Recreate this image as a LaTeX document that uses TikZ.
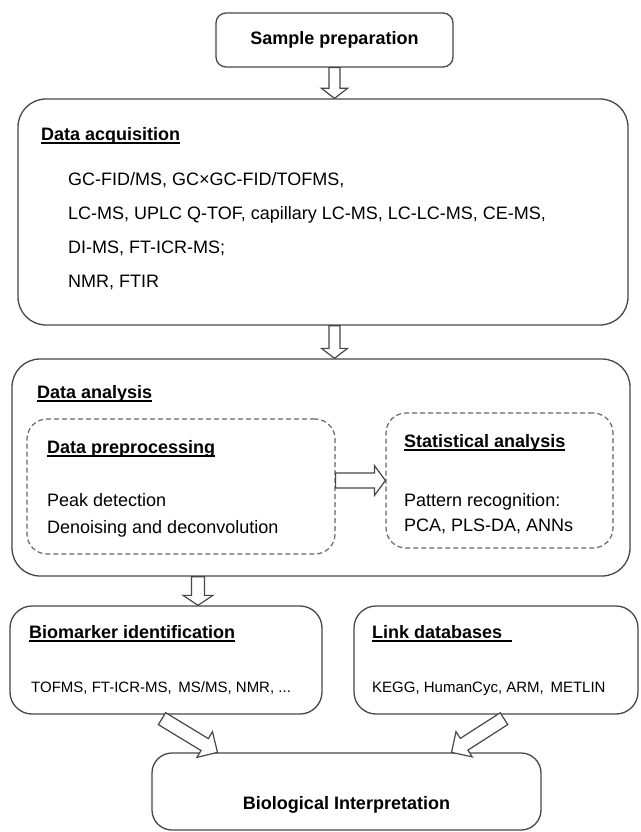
\documentclass[tikz,border=0pt]{standalone}
\usepackage{fontspec}
\setmainfont{Liberation Sans}
\usetikzlibrary{calc}

% underlined bold heading
\newcommand{\headline}[1]{\setbox0\hbox{\bfseries #1}\rlap{\rule[-3.5pt]{\wd0}{1.6pt}}\box0}
% hollow block arrow: from, to, half shaft, half head, head length
\newcommand{\blockarrow}[5]{%
  \coordinate (neck) at ($(#2)!#5!(#1)$);
  \draw[arrowline] ($(#1)!#3!90:(#2)$) -- ($(neck)!#3!90:(#2)$) -- ($(neck)!#4!90:(#2)$) -- (#2)
    -- ($(neck)!#4!-90:(#2)$) -- ($(neck)!#3!-90:(#2)$) -- ($(#1)!#3!-90:(#2)$) -- cycle;}

\begin{document}
\begin{tikzpicture}[x=1pt,y=-1pt,
    box/.style={draw=black!72,line width=1.3pt,inner sep=0pt},
    dashbox/.style={draw=black!60,line width=1.2pt,dash pattern=on 5pt off 3pt,inner sep=0pt},
    head/.style={anchor=base west,inner sep=0pt,font=\fontsize{18}{22}\selectfont},
    body/.style={anchor=north west,inner sep=0pt,align=left},
    arrowline/.style={draw=black!72,line width=1.2pt,fill=white,line join=miter}]
  \useasboundingbox (0,0) rectangle (640,832);

  % boxes
  \node[box,rounded corners=10pt,minimum width=237pt,minimum height=54pt,
        font=\fontsize{18}{22}\selectfont\bfseries] (prep) at (334.5,40) {Sample preparation};
  \node[box,rounded corners=28pt,minimum width=610pt,minimum height=226pt] (acq) at (323,212) {};
  \node[box,rounded corners=28pt,minimum width=618pt,minimum height=217pt] (ana) at (321,467.5) {};
  \node[dashbox,rounded corners=20pt,minimum width=308pt,minimum height=135pt] (pre) at (181,486.5) {};
  \node[dashbox,rounded corners=20pt,minimum width=227pt,minimum height=135pt] (stat) at (499.5,480.5) {};
  \node[box,rounded corners=22pt,minimum width=312pt,minimum height=108pt] (bio) at (166,660) {};
  \node[box,rounded corners=22pt,minimum width=284pt,minimum height=108pt] (link) at (496,660) {};
  \node[box,rounded corners=20pt,minimum width=389pt,minimum height=77pt] (interp) at (346.5,791.5) {};

  % texts
  \node[head] (acqhead) at (41,140) {\headline{Data acquisition}};
  \node[body,font=\fontsize{18}{34}\selectfont] (acqlist) at (68,172) {GC-FID/MS, GC×GC-FID/TOFMS,\\
    LC-MS, UPLC Q-TOF, capillary LC-MS, LC-LC-MS, CE-MS,\\
    DI-MS, FT-ICR-MS;\\
    NMR, FTIR};
  \node[head] (anahead) at (37,398.5) {\headline{Data analysis}};
  \node[head] (prehead) at (47,453.5) {\headline{Data preprocessing}};
  \node[body,font=\fontsize{18}{26.5}\selectfont] (prelist) at (47,493.5) {Peak detection\\
    Denoising and deconvolution};
  \node[head] (stathead) at (404,447.5) {\headline{Statistical analysis}};
  \node[body,font=\fontsize{18}{25}\selectfont] (statlist) at (404,493.5) {Pattern recognition:\\
    PCA, PLS-DA, ANNs};
  \node[head] (biohead) at (29,638.5) {\headline{Biomarker identification}};
  \node[head,font=\fontsize{15}{18}\selectfont] (biolist) at (31,692.5) {TOFMS, FT-ICR-MS,\, MS/MS, NMR, ...};
  \node[head] (linkhead) at (372,638.5) {\headline{Link databases\hspace{10pt}}};
  \node[head,font=\fontsize{15}{18}\selectfont] (linklist) at (372,692.5) {KEGG, HumanCyc, ARM,\, METLIN};
  \node[anchor=base,inner sep=0pt,font=\fontsize{18}{22}\selectfont\bfseries] (interptext) at (346.5,809.5) {Biological Interpretation};

  % arrow ends
  \coordinate (acqin) at (prep.south |- acq.north);
  \coordinate (acqout) at (prep.south |- acq.south);
  \coordinate (anain) at (prep.south |- ana.north);
  \coordinate (stepdown) at ([xshift=32pt]bio.north);
  \coordinate (anaout) at (stepdown |- ana.south);
  \coordinate (preout) at (pre.east |- stat.west);
  \coordinate (bioout) at ([xshift=-4pt,yshift=-4pt]bio.south);
  \coordinate (linkout) at ([xshift=8pt,yshift=-4pt]link.south);
  \coordinate (interpl) at ([xshift=-129pt]interp.north);
  \coordinate (interpr) at ([xshift=105pt]interp.north);

  % arrows
  \blockarrow{prep.south}{acqin}{5.5pt}{13pt}{10pt}
  \blockarrow{acqout}{anain}{5.5pt}{13pt}{10pt}
  \blockarrow{preout}{stat.west}{7.5pt}{15pt}{11pt}
  \blockarrow{anaout}{stepdown}{6.5pt}{15pt}{10pt}
  \blockarrow{bioout}{interpl}{7pt}{15pt}{15pt}
  \blockarrow{linkout}{interpr}{7pt}{15pt}{15pt}
\end{tikzpicture}
\end{document}
